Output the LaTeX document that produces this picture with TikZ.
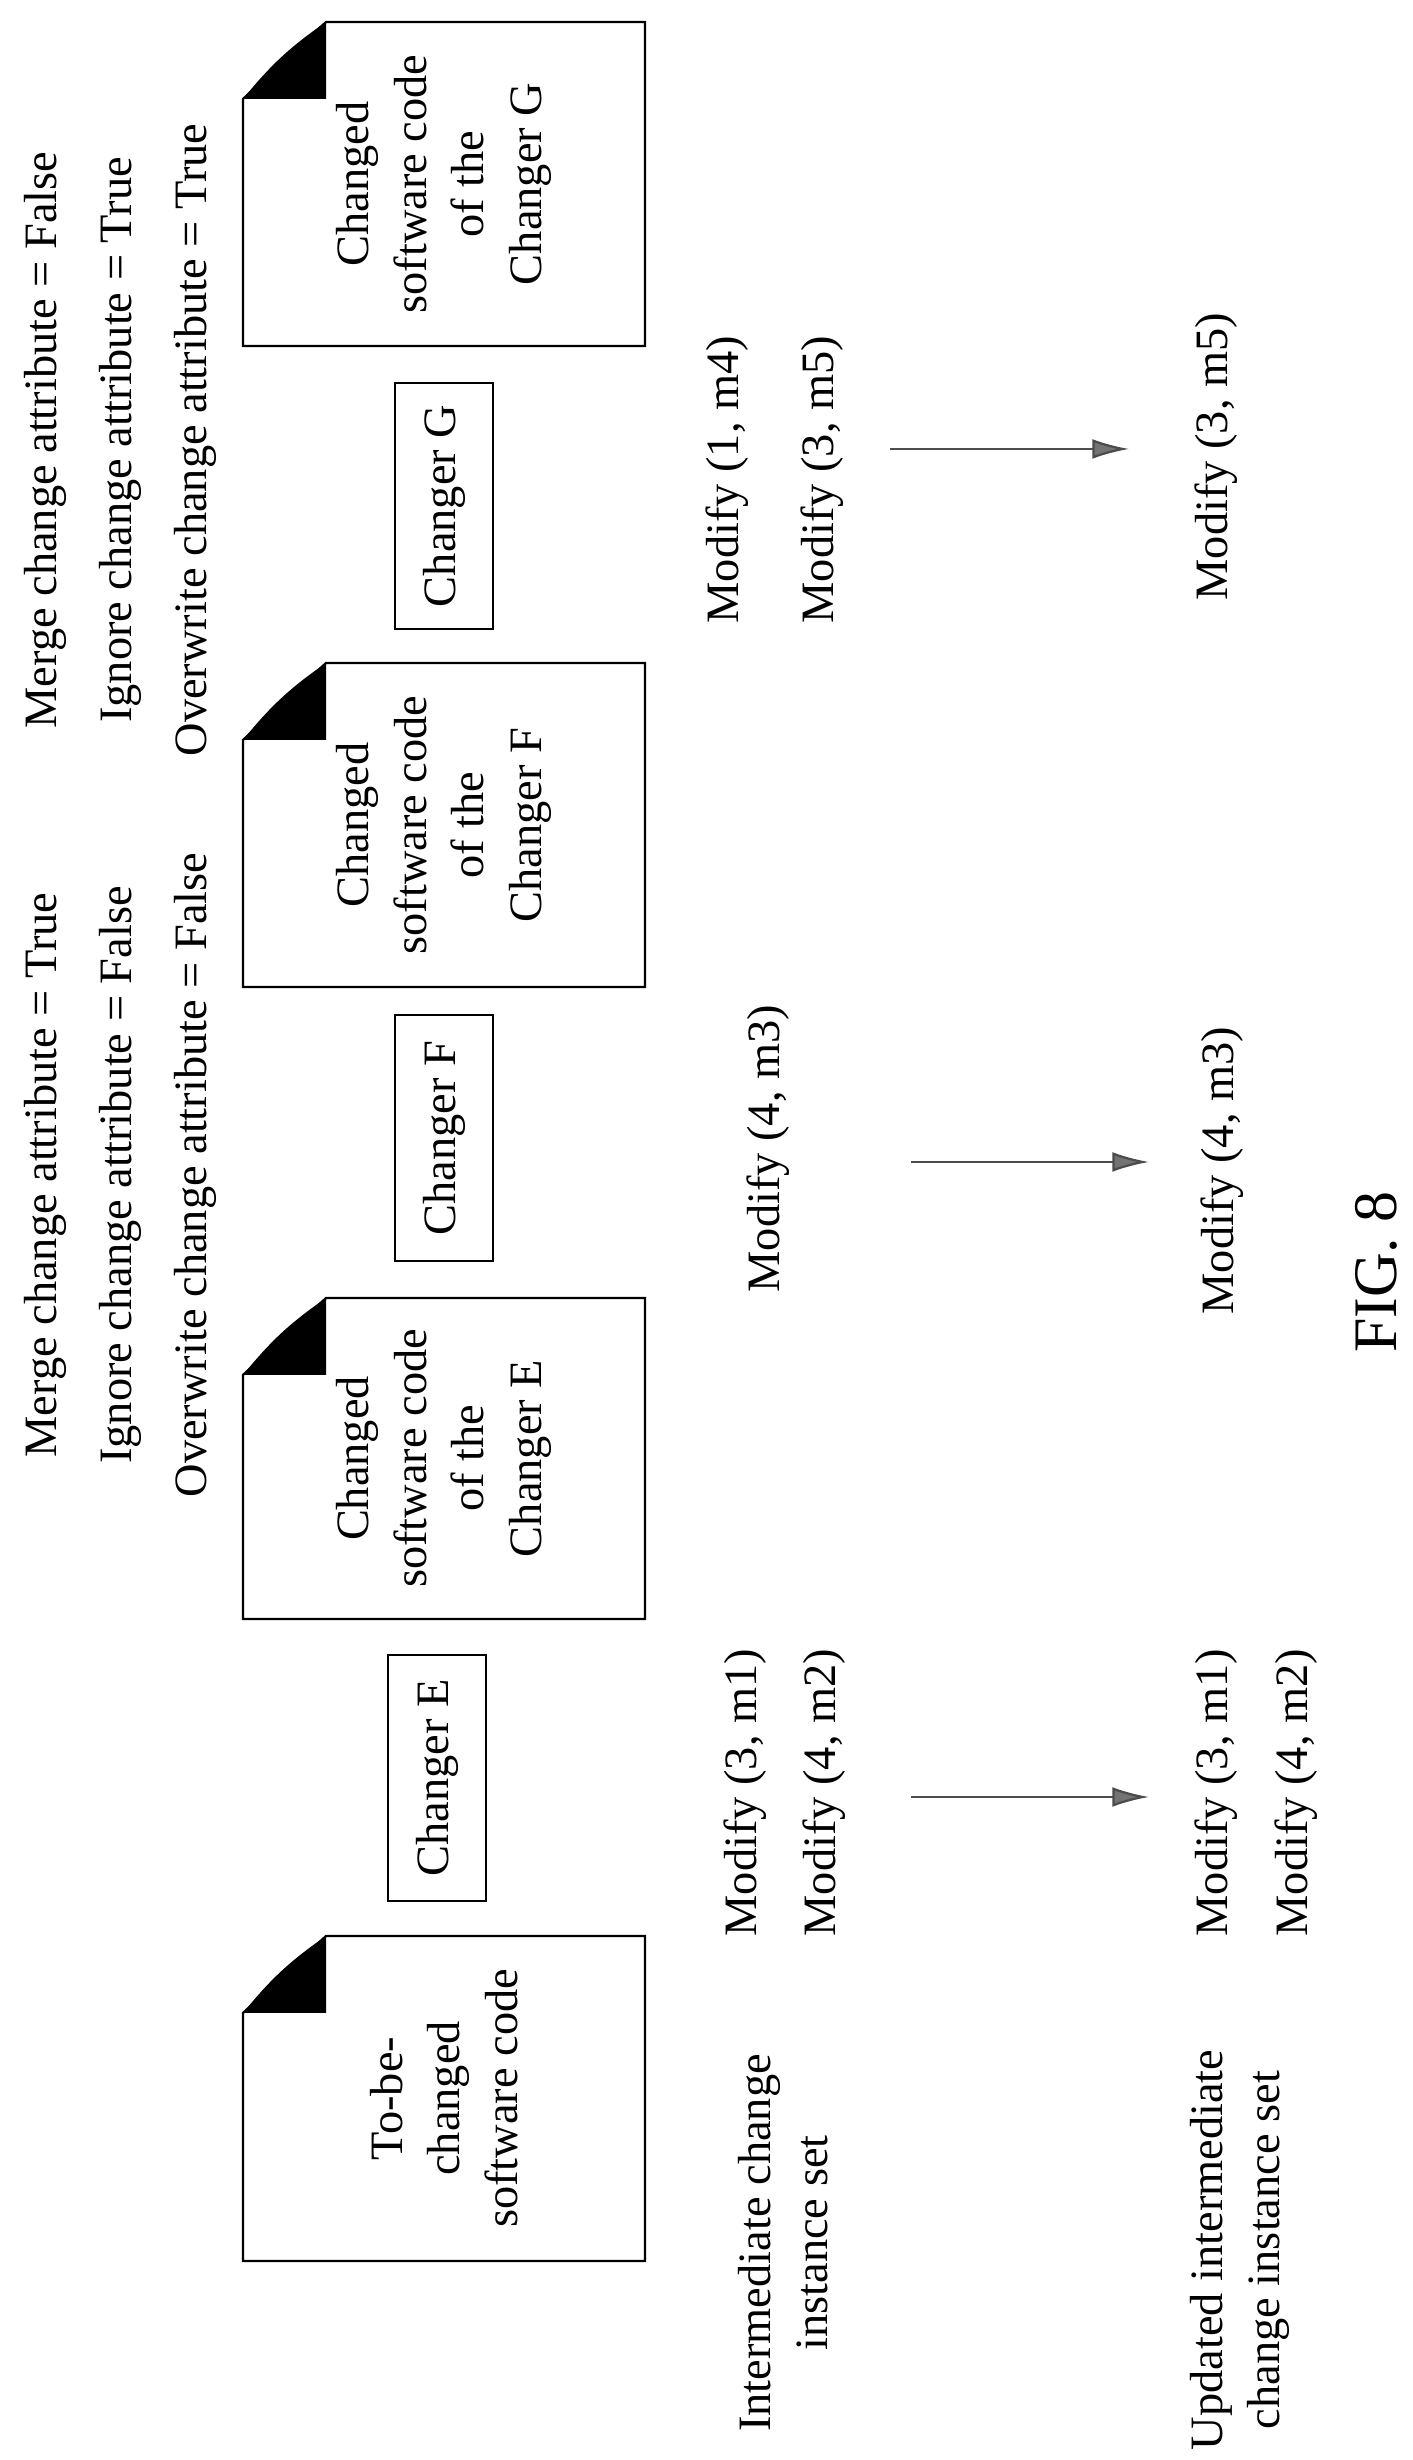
\documentclass[tikz,border=0pt]{standalone}
\usepackage{fontspec}
\setmainfont{Liberation Serif}
\usepackage{tikz}
\usetikzlibrary{arrows.meta}

\tikzset{
    txt/.style={font=\fontsize{16.5}{20.5}\selectfont, inner sep=0pt},
    box/.style={draw, line width=0.8pt, minimum width=3.075cm, minimum height=1.225cm, txt},
    arr/.style={draw=black!70, line width=0.8pt, -{Latex[length=13pt, width=7pt, fill=black!55]}}
}

% page with a folded corner, text in the middle
\newcommand{\docpage}[4]{
    \draw[line width=0.8pt] (#2,-243) -- (#3-77,-243) -- (#3,-326) -- (#3,-645)
        -- (#2,-645) -- cycle;
    \fill (#3-77,-243) to[bend left=8] (#3,-326) -- (#3-77,-326) -- cycle;
    \node[txt, align=center] (#1) at ({(#2+#3)/2},-444) {#4};
}

\begin{document}
\begin{tikzpicture}[x=0.0125cm, y=0.0125cm, rotate=90, transform shape]
        \useasboundingbox (0,0) rectangle (2460,-1412);

        \docpage{doc0}{199}{524}{To-be-\\changed\\software code}
        \docpage{docE}{841}{1162}{Changed\\software code\\of the\\Changer E}
        \docpage{docF}{1473}{1797}{Changed\\software code\\of the\\Changer F}
        \docpage{docG}{2114}{2438}{Changed\\software code\\of the\\Changer G}

        \node[box] (chE) at (682,-437) {Changer E};
        \node[box] (chF) at (1322,-444) {Changer F};
        \node[box] (chG) at (1954,-444) {Changer G};

        % attributes
        \node[txt] (attE1) at (1285,-45) {Merge change attribute = True};
        \node[txt] (attE2) at (1285,-120) {Ignore change attribute = False};
        \node[txt] (attE3) at (1285,-195) {Overwrite change attribute = False};
        \node[txt] (attG1) at (2020,-45) {Merge change attribute = False};
        \node[txt] (attG2) at (2020,-120) {Ignore change attribute = True};
        \node[txt] (attG3) at (2020,-195) {Overwrite change attribute = True};

        % change instance sets
        \node[txt, align=center] (setin) at (217,-783) {Intermediate change\\instance set};
        \node[txt, align=center] (setout) at (210,-1240) {Updated intermediate\\change instance set};

        \node[txt, anchor=west] (inE1) at (523,-745) {Modify (3, m1)};
        \node[txt, anchor=west] (inE2) at (523,-824) {Modify (4, m2)};
        \node[txt, anchor=west] (outE1) at (523,-1216) {Modify (3, m1)};
        \node[txt, anchor=west] (outE2) at (523,-1296) {Modify (4, m2)};
        \node[txt, anchor=west] (inF) at (1167,-768) {Modify (4, m3)};
        \node[txt, anchor=west] (outF) at (1145,-1222) {Modify (4, m3)};
        \node[txt, anchor=west] (inG1) at (1836,-727) {Modify (1, m4)};
        \node[txt, anchor=west] (inG2) at (1836,-822) {Modify (3, m5)};
        \node[txt, anchor=west] (outG) at (1859,-1216) {Modify (3, m5)};

        \coordinate (a1) at (663,-911);  \coordinate (b1) at (663,-1149);
        \coordinate (a2) at (1298,-911); \coordinate (b2) at (1298,-1149);
        \coordinate (a3) at (2011,-890); \coordinate (b3) at (2011,-1129);
        \foreach \i in {1,2,3} {
            \draw[arr] (a\i) -- (b\i);
        }

        \node[font=\fontsize{22}{26}\selectfont, inner sep=0pt] (fig) at (1188,-1376) {FIG. 8};
    \end{tikzpicture}
\end{document}
